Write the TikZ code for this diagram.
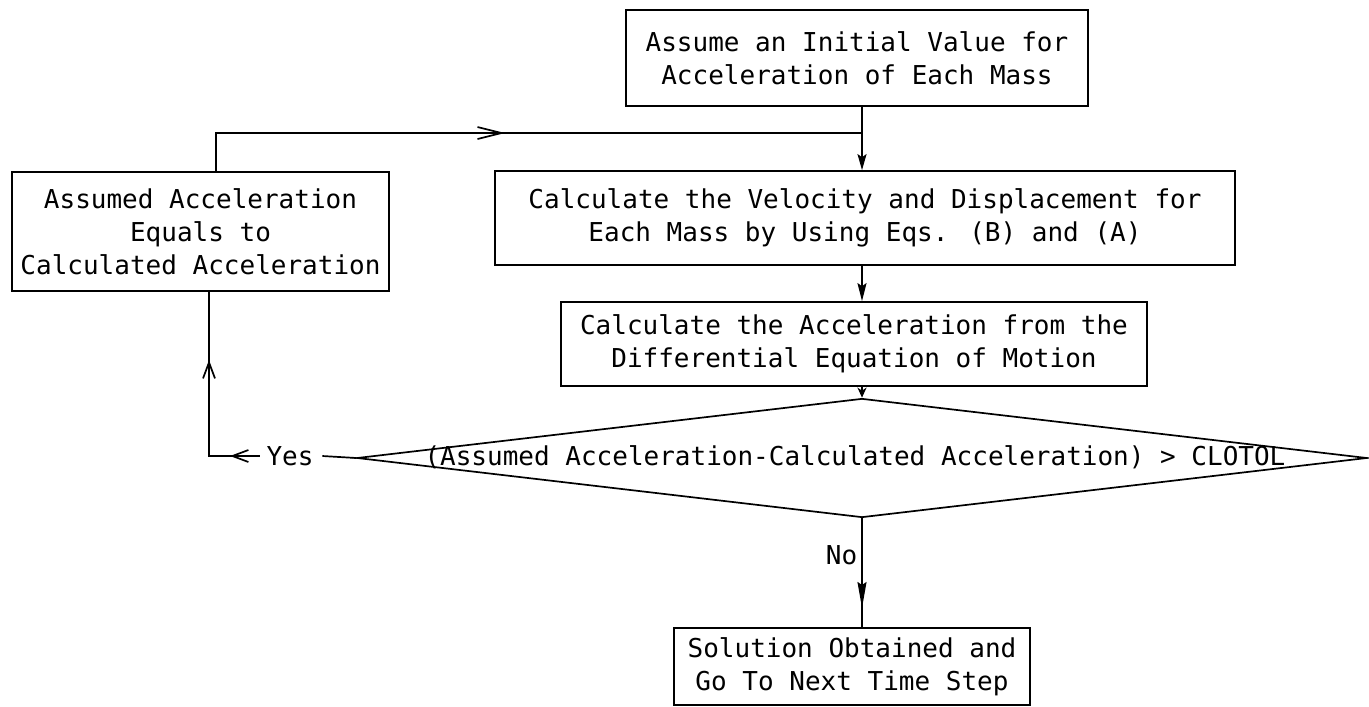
\documentclass[tikz,border=0pt]{standalone}
\usepackage{fontspec}
\usetikzlibrary{arrows.meta,shapes.geometric}
\newfontfamily\tw{DejaVu Sans Mono}
\begin{document}
\begin{tikzpicture}[x=1pt,y=-1pt,line width=1.7pt,
  txt/.style={font=\tw\fontsize{26}{33}\selectfont, inner sep=0pt, align=center},
  box/.style={txt, draw},
  vtip/.style={-{Stealth[length=#1,width=9pt,inset=3pt]}},
  barbtip/.style={-{Straight Barb[length=#1,width=12pt]}},
]
\useasboundingbox (0,0) rectangle (1369,707);
% nodes
\node[box, minimum width=462pt, minimum height=96pt] (A) at (857,58)
  {Assume an Initial Value for\\Acceleration of Each Mass};
\node[box, minimum width=740pt, minimum height=94pt] (B) at (865,218)
  {Calculate the Velocity and Displacement for\\Each Mass by Using Eqs. (B) and (A)};
\node[box, minimum width=586pt, minimum height=84pt] (C) at (854,344)
  {Calculate the Acceleration from the\\Differential Equation of Motion};
\node[draw, shape=diamond, minimum width=1010pt, minimum height=119pt, inner sep=0pt] (D) at (862,458) {};
\node[txt] (Dt) at (855,457) {(Assumed Acceleration-Calculated Acceleration) > CLOTOL};
\node[box, minimum width=377pt, minimum height=119pt] (L) at (200.5,231.5)
  {Assumed Acceleration\\Equals to\\Calculated Acceleration};
\node[box, minimum width=356pt, minimum height=77pt] (E) at (852,666.5)
  {Solution Obtained and\\Go To Next Time Step};
\node[txt] (yes) at (290,456) {Yes};
\node[txt, anchor=east] (no) at (858,555) {No};
% helper coordinates
\coordinate (ax) at (862,0);
\coordinate (fbR) at (862,133);
\coordinate (fbTip) at (505,133);
\coordinate (lxT) at (216,0);
\coordinate (lxB) at (209,0);
\coordinate (yesC) at (209,456);
\coordinate (yTip) at (230,456);
\coordinate (upTip) at (209,360);
\coordinate (noTip) at (862,608);
% connectors
\draw[vtip=16pt] (A.south -| ax) -- (B.north -| ax);
\draw (L.north -| lxT) |- (fbR);
\draw[barbtip=24pt] (L.north -| lxT) |- (fbTip);
\draw[vtip=18pt] (B.south -| ax) -- (C.north -| ax);
\draw[vtip=10pt] (C.south -| ax) -- (D.north);
\draw ([xshift=8pt]yes.east) -- (D.west);
\draw ([xshift=-6pt]yes.west) -- (yesC) -- (L.south -| lxB);
\draw[barbtip=16pt] ([xshift=-6pt]yes.west) -- (yTip);
\draw[barbtip=16pt] (yesC) -- (upTip);
\draw (D.south) -- (E.north -| ax);
\draw[vtip=26pt] (D.south) -- (noTip);
\end{tikzpicture}
\end{document}
